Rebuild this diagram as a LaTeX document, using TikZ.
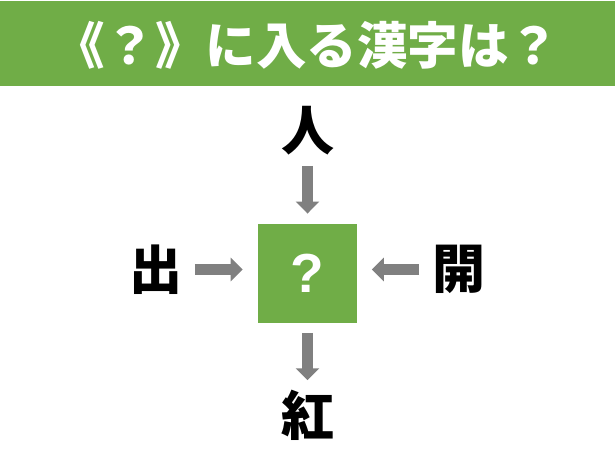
\documentclass[tikz,border=0pt]{standalone}
\usepackage{fontspec}
\setmainfont{Liberation Sans}
\newfontfamily\jpfont{Noto Sans CJK JP}
\usetikzlibrary{arrows.meta}
\usetikzlibrary{positioning}
\definecolor{quizGreen}{RGB}{112, 173, 71}
\definecolor{arrowGray}{RGB}{128, 128, 128}

\begin{document}
\begin{tikzpicture}[x=1pt, y=1pt,
    kanji/.style={font=\jpfont\bfseries\fontsize{53}{53}\selectfont,
                  inner sep=0pt, minimum size=54pt},
    arr/.style={arrowGray, line width=11.3pt,
                -{Triangle[width=23pt, length=12pt]}}]
      \useasboundingbox (0,0) rectangle (615,-462);
      \fill [quizGreen] (0,-1) rectangle (615,-86);
      \node [white, font=\jpfont\bfseries\fontsize{50.5}{50.5}\selectfont]
            (title) at (306.5,-45) {《？》に入る漢字は？};

      \node [fill=quizGreen, minimum size=99.3pt, inner sep=0pt, text=white,
             font=\bfseries\fontsize{55}{55}\selectfont]
            (quiz) at (307.5,-273.7) {?};

      \node [kanji, above=66pt of quiz] (ren) {人};
      \node [kanji, left=74.7pt of quiz, yshift=4.2pt] (de) {出};
      \node [kanji, right=74.5pt of quiz, yshift=4.2pt] (kai) {開};
      \node [kanji, below=65pt of quiz] (kou) {紅};

      \draw [arr, shorten <=8pt, shorten >=10.3pt] (ren.south) -- (quiz.north);
      \draw [arr, shorten <=9.4pt, shorten >=8.3pt] (quiz.south) -- (kou.north);
      \draw [arr, shorten <=12pt, shorten >=15pt] (de.east) -- (de.east -| quiz.west);
      \draw [arr, shorten <=12.8pt, shorten >=14.4pt] (kai.west) -- (kai.west -| quiz.east);
    \end{tikzpicture}
\end{document}
